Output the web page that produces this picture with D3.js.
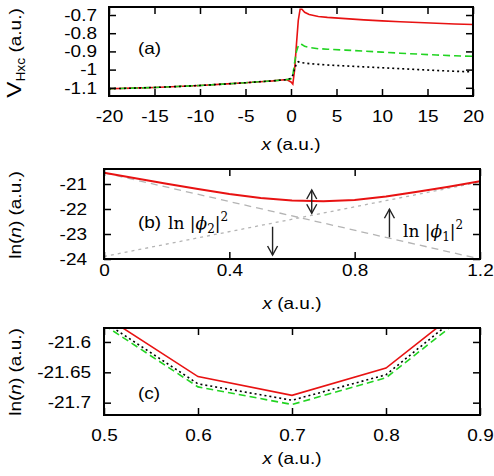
<!DOCTYPE html>
<html>
<head>
<meta charset="utf-8">
<script src="https://cdn.jsdelivr.net/npm/d3@7"></script>
<style>
  body { margin: 0; background: #fff; }
  svg { display: block; font-family: "Liberation Sans", Arial, sans-serif; }
</style>
</head>
<body>
<svg id="chart"></svg>
<script>
// ---- panel (a): V_Hxc vs x ----
const xA = [-20, -17.5, -15, -12.5, -10, -7.5, -5, -3, -2, -1, -0.5, 0, 0.2, 0.4, 0.6, 0.8, 1.0, 1.2, 1.5, 2, 3, 4, 6, 8, 10, 12, 14, 16, 18, 20];
const redA = [-1.105, -1.102, -1.098, -1.093, -1.087, -1.08, -1.072, -1.065, -1.062, -1.057, -1.055, -1.068, -1.08, -1.0, -0.86, -0.73, -0.668, -0.668, -0.685, -0.697, -0.708, -0.713, -0.72, -0.727, -0.732, -0.737, -0.741, -0.745, -0.749, -0.752];
const greenA = [-1.105, -1.102, -1.098, -1.093, -1.087, -1.08, -1.072, -1.065, -1.062, -1.057, -1.055, -1.05, -1.03, -0.96, -0.9, -0.87, -0.858, -0.862, -0.872, -0.878, -0.885, -0.888, -0.893, -0.898, -0.904, -0.91, -0.915, -0.92, -0.924, -0.927];
const blackA = [-1.105, -1.102, -1.098, -1.093, -1.087, -1.08, -1.072, -1.065, -1.062, -1.057, -1.055, -1.048, -1.03, -0.995, -0.968, -0.957, -0.96, -0.962, -0.964, -0.967, -0.971, -0.975, -0.98, -0.985, -0.99, -0.995, -1.0, -1.005, -1.009, -1.013];
const xTicksA = [-20, -15, -10, -5, 0, 5, 10, 15, 20];
const yTicksA = [-0.7, -0.8, -0.9, -1, -1.1];

// ---- panel (b): ln(n) and the two orbital densities ----
const xB = [0, 0.1, 0.2, 0.3, 0.4, 0.5, 0.6, 0.7, 0.8, 0.9, 1.0, 1.1, 1.2];
const redB = [-20.55, -20.77, -20.99, -21.2, -21.4, -21.56, -21.66, -21.69, -21.64, -21.5, -21.31, -21.11, -20.89];
const phiX = [0, 1.2];
const phi2B = [-20.55, -24.0];
const phi1B = [-23.9, -20.92];
const arrowX = [0.663, 0.538, 0.911];
const arrowFrom = [-21.24, -22.71, -23.13];
const arrowTo = [-22.17, -23.84, -22.01];
const arrowBoth = [true, false, false];
const xTicksB = [0, 0.4, 0.8, 1.2];
const yTicksB = [-21, -22, -23, -24];

// ---- panel (c): zoom of ln(n) near the minimum ----
const xC = [0.5, 0.6, 0.7, 0.8, 0.9];
const redC = [-21.557, -21.657, -21.688, -21.643, -21.521];
const blackC = [-21.567, -21.669, -21.696, -21.654, -21.528];
const greenC = [-21.572, -21.674, -21.703, -21.659, -21.537];
const xTicksC = [0.5, 0.6, 0.7, 0.8, 0.9];
const yTicksC = [-21.6, -21.65, -21.7];

const width = 494;
const height = 476;
const RED = "#e81212";
const GREEN = "#22d422";
const fontSize = 16.5;
const stretch = 1.15; // the original lettering is wider than Liberation Sans

const svg = d3.select("#chart").attr("width", width).attr("height", height);

const fmt = (d) => String(d);

const pairs = (xs, ys) => xs.map((x, i) => [x, ys[i]]);

// draws frame, inward ticks on all four sides, labels left & bottom
const drawFrame = (x, y, xTicks, yTicks, xPad, yPad) => {
  const [x0, x1] = x.range();
  const [y0, y1] = y.range();
  const axes = [
    { a: d3.axisBottom(x).tickValues(xTicks).tickFormat(fmt).tickPadding(xPad), t: `translate(0,${y0})` },
    { a: d3.axisTop(x).tickValues(xTicks).tickFormat(""), t: `translate(0,${y1})` },
    { a: d3.axisLeft(y).tickValues(yTicks).tickFormat(fmt).tickPadding(yPad), t: `translate(${x0},0)` },
    { a: d3.axisRight(y).tickValues(yTicks).tickFormat(""), t: `translate(${x1},0)` },
  ];
  axes.forEach((ax) => {
    const g = svg.append("g").attr("transform", ax.t).call(ax.a.tickSizeInner(-7).tickSizeOuter(0));
    g.attr("font-size", null).attr("font-family", null);
    g.select(".domain").remove();
    g.selectAll("line").attr("stroke", "#000").attr("stroke-width", 1.5);
    g.selectAll("text").attr("class", "sans").style("font-size", fontSize + "px").attr("fill", "#000");
  });
  svg.append("rect")
    .attr("x", x0).attr("y", y1)
    .attr("width", x1 - x0).attr("height", y0 - y1)
    .attr("fill", "none").attr("stroke", "#000").attr("stroke-width", 2);
};

const clipFor = (id, x, y) => {
  const [x0, x1] = x.range();
  const [y0, y1] = y.range();
  svg.append("clipPath").attr("id", id).append("rect")
    .attr("x", x0).attr("y", y1).attr("width", x1 - x0).attr("height", y0 - y1);
  return svg.append("g").attr("clip-path", `url(#${id})`);
};

const drawLine = (g, x, y, data, color, w, dash) => {
  g.append("path")
    .datum(data)
    .attr("fill", "none")
    .attr("stroke", color)
    .attr("stroke-width", w)
    .attr("stroke-dasharray", dash)
    .attr("d", d3.line().x((d) => x(d[0])).y((d) => y(d[1])));
};

const xTitle = (cx, cy) => {
  const t = svg.append("text").attr("class", "sans").attr("x", cx).attr("y", cy).attr("text-anchor", "middle")
    .style("font-size", fontSize + "px");
  t.append("tspan").style("font-style", "italic").text("x");
  t.append("tspan").text(" (a.u.)");
};

const yTitleN = (cy) => {
  const t = svg.append("text").attr("class", "sans").attr("transform", `translate(21,${cy}) rotate(-90)`)
    .attr("text-anchor", "middle").style("font-size", fontSize + "px");
  t.append("tspan").text("ln(");
  t.append("tspan").style("font-style", "italic").text("n");
  t.append("tspan").text(") (a.u.)");
};

const panelLabel = (s, px, py) => {
  svg.append("text").attr("class", "sans").attr("x", px).attr("y", py).style("font-size", fontSize + "px").text(s);
};

// ===== panel (a) =====
const xa = d3.scaleLinear().domain([-20, 20]).range([109, 473]);
const ya = d3.scaleLinear().domain([-1.145, -0.656]).range([96, 7]);
const ga = clipFor("clipA", xa, ya);
drawLine(ga, xa, ya, pairs(xA, redA), RED, 1.6, null);
drawLine(ga, xa, ya, pairs(xA, greenA), GREEN, 1.6, "7,4");
drawLine(ga, xa, ya, pairs(xA, blackA), "#000", 1.6, "2,3");
drawFrame(xa, ya, xTicksA, yTicksA, 14, 12);
panelLabel("(a)", 138, 54);
xTitle(291, 150);
{
  const t = svg.append("text").attr("class", "sans").attr("transform", "translate(21,53) rotate(-90)")
    .attr("text-anchor", "middle").style("font-size", fontSize + "px");
  t.append("tspan").style("font-size", "21px").text("V");
  t.append("tspan").style("font-size", "12px").attr("dy", 4).text("Hxc");
  t.append("tspan").attr("dy", -4).text(" (a.u.)");
}

// ===== panel (b) =====
const xb = d3.scaleLinear().domain([0, 1.2]).range([104, 480]);
const yb = d3.scaleLinear().domain([-24, -20.4]).range([259, 169]);
const gb = clipFor("clipB", xb, yb);
drawLine(gb, xb, yb, pairs(phiX, phi2B), "#b4b4b4", 1.3, "7,5");
drawLine(gb, xb, yb, pairs(phiX, phi1B), "#b4b4b4", 1.3, "3,4");
drawLine(gb, xb, yb, pairs(xB, redB), RED, 2.2, null);
drawFrame(xb, yb, xTicksB, yTicksB, 5, 17);

const head = (px, py, dir) => {
  // open V arrowhead, dir = +1 points down, -1 points up
  svg.append("path")
    .attr("d", `M${px - 5},${py - dir * 9}L${px},${py}L${px + 5},${py - dir * 9}`)
    .attr("fill", "none").attr("stroke", "#222").attr("stroke-width", 1.4);
};
arrowX.forEach((ax, i) => {
  const px = xb(ax);
  const p1 = yb(arrowFrom[i]);
  const p2 = yb(arrowTo[i]);
  svg.append("line").attr("x1", px).attr("x2", px).attr("y1", p1).attr("y2", p2)
    .attr("stroke", "#222").attr("stroke-width", 1.4);
  const dir = p2 > p1 ? 1 : -1;
  head(px, p2, dir);
  if (arrowBoth[i]) head(px, p1, -dir);
});
panelLabel("(b)", 138, 228);
const phiLabel = (px, py, sub) => {
  const t = svg.append("text").attr("x", px).attr("y", py)
    .style("font-family", "'DejaVu Serif', 'Liberation Serif', serif").style("font-size", "17px");
  t.append("tspan").text("ln |");
  t.append("tspan").style("font-style", "italic").text("\u03d5");
  t.append("tspan").style("font-size", "12px").attr("dy", 4).text(sub);
  t.append("tspan").attr("dy", -4).text("|");
  t.append("tspan").style("font-size", "12px").attr("dy", -8).text("2");
};
phiLabel(168, 229, "2");
phiLabel(403, 237, "1");
xTitle(292, 309);
yTitleN(215);

// ===== panel (c) =====
const xc = d3.scaleLinear().domain([0.5, 0.9]).range([104, 480]);
const yc = d3.scaleLinear().domain([-21.7203, -21.577]).range([415, 328]);
const gc = clipFor("clipC", xc, yc);
drawLine(gc, xc, yc, pairs(xC, greenC), GREEN, 1.6, "7,4");
drawLine(gc, xc, yc, pairs(xC, blackC), "#000", 1.6, "2,3");
drawLine(gc, xc, yc, pairs(xC, redC), RED, 1.6, null);
drawFrame(xc, yc, xTicksC, yTicksC, 14, 13);
panelLabel("(c)", 138, 399);
xTitle(292, 464);
yTitleN(372);

// widen the sans lettering to match the original
svg.selectAll("text.sans").each(function () {
  const len = this.getComputedTextLength();
  this.setAttribute("textLength", len * stretch);
  this.setAttribute("lengthAdjust", "spacingAndGlyphs");
});
</script>
</body>
</html>
